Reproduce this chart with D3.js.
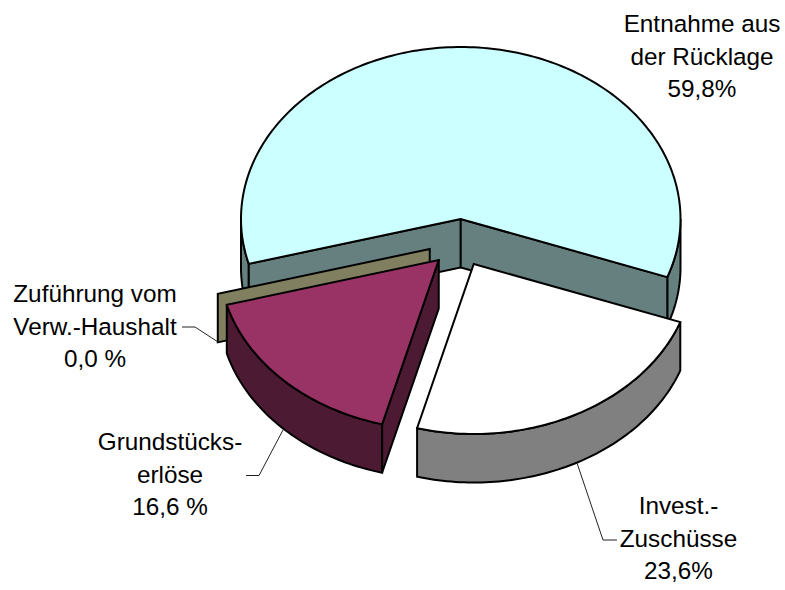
<!DOCTYPE html>
<html><head><meta charset="utf-8">
<script src="https://cdnjs.cloudflare.com/ajax/libs/d3/7.8.5/d3.min.js"></script>
<style>html,body{margin:0;padding:0;background:#fff}svg{display:block}text{font-family:"Liberation Sans",Arial,sans-serif;font-size:24.3px;fill:#000}</style>
</head><body><svg id="c" width="785" height="590"></svg>
<script>
const categories = ["Entnahme aus der Rücklage","Invest.-Zuschüsse","Grundstücks-erlöse","Zuführung vom Verw.-Haushalt"];
const values = [59.8,23.6,16.6,0.0];
const labelLines = [["Entnahme aus","der Rücklage","59,8%"],["Invest.-","Zuschüsse","23,6%"],["Grundstücks-","erlöse","16,6 %"],["Zuführung vom","Verw.-Haushalt","0,0 %"]];

// presentation
const topColors = ["#ccffff","#ffffff","#993366","#808060"];
const sideColors = ["#668080","#808080","#4d1a33","#808060"];
const explode = [[0,0],[13,45],[-22,41],[-31,30]];
const labelX = [702,678.5,170,95];
const labelY = [32,514,450,302];
const labelStep = 32.7;
const leaders = [null,[[577,463],[603,540],[617,540]],[[283,430],[259,475.5],[246,475.5]],[[218,342],[195,327],[182,327]]];
const depth = 48.5, startDeg = 254.7;

const svg = d3.select("#c");
const x = d3.scaleLinear().domain([-1,1]).range([241,680.5]);
const y = d3.scaleLinear().domain([-1,0,1]).range([47,219,389]);
const pie = d3.pie().sort(null).startAngle(startDeg*Math.PI/180).endAngle((startDeg+360)*Math.PI/180);
const arcs = pie(values);
const line = d3.line();
const pt = (a,dx,dy,h=0)=>[x(Math.sin(a))+dx, y(-Math.cos(a))+dy+h];
const ctr = (dx,dy,h=0)=>[x(0)+dx, y(0)+dy+h];
const arcPts = (a0,a1,dx,dy,h=0)=>{
  const n = Math.max(2,Math.ceil(Math.abs(a1-a0)/0.02));
  return d3.range(n+1).map(i=>pt(a0+(a1-a0)*i/n,dx,dy,h));
};
const draw=(pts,fill,close=true)=>svg.append("path")
  .attr("d",line(pts)+(close?"Z":""))
  .attr("fill",fill).attr("stroke","#000").attr("stroke-width",2).attr("stroke-linejoin","miter");
const rad=d=>d*Math.PI/180;

// outer walls for a slice, over the parts of its rim that face the viewer (90..270 deg)
function rim(d,i,dx,dy){
  const lo=Math.max(d.startAngle,rad(90)), hi=Math.min(d.endAngle,rad(270));
  const segs=[];
  if(hi>lo) segs.push([lo,hi]);
  const lo2=Math.max(d.startAngle,rad(450)), hi2=Math.min(d.endAngle,rad(630));
  if(hi2>lo2) segs.push([lo2,hi2]);
  segs.forEach(([a,b])=>{
    draw(arcPts(a,b,dx,dy).concat(arcPts(b,a,dx,dy,depth)),sideColors[i]);
  });
}
function radialWall(a,i,dx,dy){
  draw([ctr(dx,dy),pt(a,dx,dy),pt(a,dx,dy,depth),ctr(dx,dy,depth)],sideColors[i]);
}

// back slice
{
  const d=arcs[0],[dx,dy]=explode[0];
  rim(d,0,dx,dy);
  radialWall(d.startAngle,0,dx,dy);
  radialWall(d.endAngle,0,dx,dy);
  draw([ctr(dx,dy)].concat(arcPts(d.startAngle,d.endAngle,dx,dy)),topColors[0]);
}
// zero-size slice: only its flat cut wall shows
{
  const d=arcs[3],[dx,dy]=explode[3];
  radialWall(d.startAngle,3,dx,dy);
}
// purple slice
{
  const d=arcs[2],[dx,dy]=explode[2];
  rim(d,2,dx,dy);
  radialWall(d.startAngle,2,dx,dy);
  draw([ctr(dx,dy)].concat(arcPts(d.startAngle,d.endAngle,dx,dy)),topColors[2]);
}
// white slice
{
  const d=arcs[1],[dx,dy]=explode[1];
  rim(d,1,dx,dy);
  draw([ctr(dx,dy)].concat(arcPts(d.startAngle,d.endAngle,dx,dy)),topColors[1]);
}
// leaders
leaders.forEach(l=>{ if(l) svg.append("path").attr("d",line(l)).attr("fill","none").attr("stroke","#222").attr("stroke-width",1); });
// labels
labelLines.forEach((ls,i)=>{
  ls.forEach((s,j)=>svg.append("text").attr("x",labelX[i]).attr("y",labelY[i]+j*labelStep).attr("text-anchor","middle").text(s));
});
</script></body></html>
